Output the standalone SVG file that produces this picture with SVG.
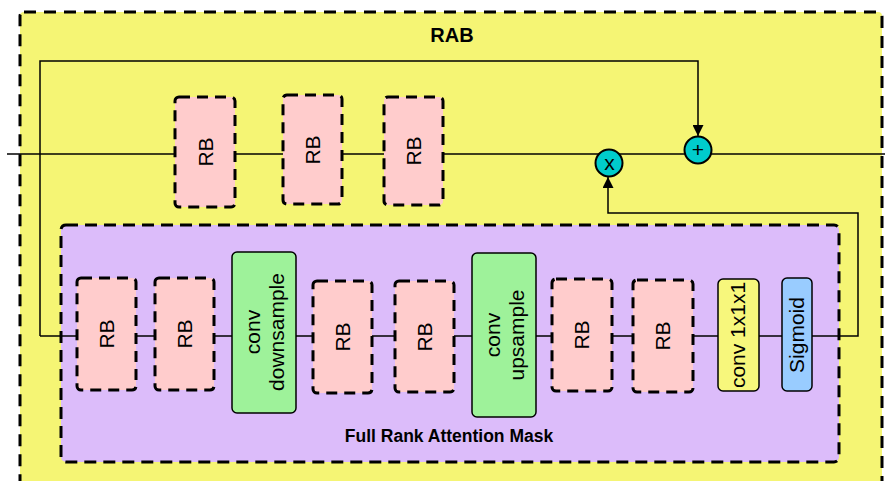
<svg xmlns="http://www.w3.org/2000/svg" width="885" height="481" viewBox="0 0 885 481">
<defs>
<marker id="arr" viewBox="0 0 10 10" refX="10" refY="5" markerWidth="11" markerHeight="11" markerUnits="userSpaceOnUse" orient="auto">
<path d="M0,0 L10,5 L0,10 z" fill="#000"/>
</marker>
<style>
.rab{fill:#f5f574;stroke:#000;stroke-width:3;stroke-dasharray:12 8}
.mask{fill:#dcbcfa;stroke:#000;stroke-width:3;stroke-dasharray:12 7}
.rb{fill:#ffcccc;stroke:#000;stroke-width:3;stroke-dasharray:11 7}
.conv{fill:#9ef29a;stroke:#000;stroke-width:1.5}
.c1{fill:#f7f77c;stroke:#000;stroke-width:1.5}
.sig{fill:#99ccff;stroke:#000;stroke-width:1.5}
.op{fill:#00cccc;stroke:#000;stroke-width:2}
.ln{fill:none;stroke:#000;stroke-width:1.5}
.t{font-family:"Liberation Sans",Arial,sans-serif;font-size:21px;fill:#000}
.b{font-family:"Liberation Sans",Arial,sans-serif;font-weight:bold;fill:#000}
</style>
</defs>
<g id="rab"><rect class="rab" x="20" y="12" width="862" height="490" rx="4"/>
<text class="b" x="452" y="42" font-size="20" text-anchor="middle">RAB</text></g>
<g id="mask"><rect class="mask" x="61" y="225" width="778" height="237" rx="5"/>
<text class="b" x="449" y="442" font-size="17.5" text-anchor="middle">Full Rank Attention Mask</text></g>
<g id="connectors">
<line class="ln" x1="7" y1="154" x2="885" y2="154"/>
<polyline class="ln" points="40,336 40,61 698,61 698,136" marker-end="url(#arr)"/>
<polyline class="ln" points="40,336 858,336 858,213 608,213 608,177" marker-end="url(#arr)"/>
</g>
<g id="rb1"><rect class="rb" x="175" y="97" width="60" height="110" rx="4"/><text class="t" transform="translate(213,152) rotate(-90)" text-anchor="middle">RB</text></g>
<g id="rb2"><rect class="rb" x="283" y="95" width="59" height="109" rx="4"/><text class="t" transform="translate(320,150) rotate(-90)" text-anchor="middle">RB</text></g>
<g id="rb3"><rect class="rb" x="384" y="97" width="59" height="108" rx="4"/><text class="t" transform="translate(421,151) rotate(-90)" text-anchor="middle">RB</text></g>
<g id="mul"><circle class="op" cx="609" cy="163" r="13.5"/><text class="t" x="609.5" y="170" font-size="21" text-anchor="middle">x</text></g>
<g id="add"><circle class="op" cx="698" cy="150" r="13.5"/><text class="t" x="698" y="157" font-size="19" text-anchor="middle">+</text></g>
<g id="mrb1"><rect class="rb" x="77" y="278" width="59" height="112" rx="4"/><text class="t" transform="translate(114,334) rotate(-90)" text-anchor="middle">RB</text></g>
<g id="mrb2"><rect class="rb" x="155" y="278" width="59" height="112" rx="4"/><text class="t" transform="translate(192,334) rotate(-90)" text-anchor="middle">RB</text></g>
<g id="down"><rect class="conv" x="232" y="252" width="64" height="161" rx="5"/><text class="t" transform="translate(264,332) rotate(-90)" text-anchor="middle"><tspan x="0" y="-4">conv</tspan><tspan x="0" y="20">downsample</tspan></text></g>
<g id="mrb3"><rect class="rb" x="313" y="281" width="59" height="112" rx="4"/><text class="t" transform="translate(350,337) rotate(-90)" text-anchor="middle">RB</text></g>
<g id="mrb4"><rect class="rb" x="395" y="281" width="59" height="111" rx="4"/><text class="t" transform="translate(432,337) rotate(-90)" text-anchor="middle">RB</text></g>
<g id="up"><rect class="conv" x="472" y="253" width="64" height="164" rx="5"/><text class="t" transform="translate(504,335) rotate(-90)" text-anchor="middle"><tspan x="0" y="-4">conv</tspan><tspan x="0" y="20">upsample</tspan></text></g>
<g id="mrb5"><rect class="rb" x="552" y="279" width="60" height="112" rx="4"/><text class="t" transform="translate(589,335) rotate(-90)" text-anchor="middle">RB</text></g>
<g id="mrb6"><rect class="rb" x="633" y="280" width="60" height="112" rx="4"/><text class="t" transform="translate(670,336) rotate(-90)" text-anchor="middle">RB</text></g>
<g id="conv1"><rect class="c1" x="718" y="279" width="41" height="112" rx="5"/><text class="t" transform="translate(745,335) rotate(-90)" text-anchor="middle">conv 1x1x1</text></g>
<g id="sigmoid"><rect class="sig" x="782" y="278" width="30" height="113" rx="5"/><text class="t" transform="translate(804,335) rotate(-90)" text-anchor="middle">Sigmoid</text></g>
</svg>
